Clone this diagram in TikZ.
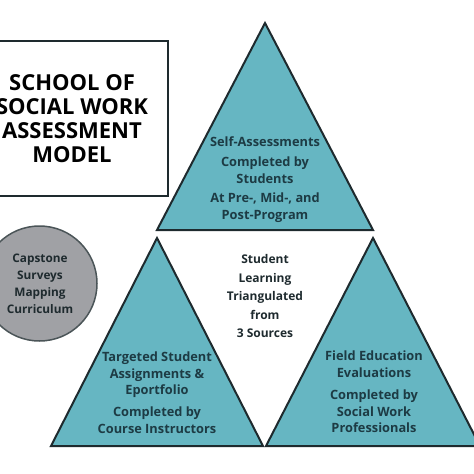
\documentclass[tikz,border=0pt]{standalone}
\usepackage{fontspec}
\setmainfont{Open Sans}
\definecolor{teal}{HTML}{66B6C2}
\definecolor{capgray}{HTML}{A0A1A5}
\definecolor{edge}{HTML}{1E2A2E}
\definecolor{tritext}{HTML}{1D3B44}
\tikzset{
  tri/.style={fill=teal, draw=edge, line width=2pt, line join=miter},
  tritxt/.style={align=center, text=tritext, font=\fontsize{12.8}{16.5}\selectfont\bfseries, inner sep=0pt},
  titletxt/.style={align=center, text=black, font=\fontsize{22}{24}\selectfont\bfseries, inner sep=0pt},
  captxt/.style={align=center, text=edge, font=\fontsize{11.8}{17}\selectfont\bfseries, inner sep=0pt},
  midtxt/.style={align=center, text=edge, font=\fontsize{12}{18.5}\selectfont\bfseries, inner sep=0pt},
}
\begin{document}
\begin{tikzpicture}[x=1pt,y=-1pt]
\useasboundingbox (0,0) rectangle (474,474);
\clip (0,0) rectangle (474,474);
% title box
\draw[line width=1.8pt, draw=edge] (-24,41) rectangle (168,196);
\node[titletxt] (title) at (72,119) {SCHOOL OF\\SOCIAL WORK\\ASSESSMENT\\MODEL};
% triangles
\draw[tri] (265,23) -- (373,230) -- (157,230) -- cycle;
\draw[tri] (157,238) -- (263,446) -- (51,446) -- cycle;
\draw[tri] (373,238) -- (480,446) -- (266,446) -- cycle;
% circle
\draw[fill=capgray, draw=edge!80, line width=1.5pt] (39.5,283.5) circle (57.5);
\node[captxt] (cap) at (40,284) {Capstone\\Surveys\\Mapping\\Curriculum};
% texts
\node[tritxt, anchor=north] (selfa) at (265,137) {Self-Assessments};
\node[tritxt, anchor=north] (selfb) at (265,157) {Completed by\\Students};
\node[tritxt, anchor=north] (selfc) at (265,193) {At Pre-, Mid-, and\\Post-Program};
\node[midtxt] (mid) at (265,296) {Student\\Learning\\Triangulated\\from\\3 Sources};
\node[tritxt, anchor=north] (tsa) at (157,352) {Targeted Student\\Assignments \&\\Eportfolio};
\node[tritxt, anchor=north] (tsb) at (157,407) {Completed by\\Course Instructors};
\node[tritxt, anchor=north] (fea) at (374,351) {Field Education\\Evaluations};
\node[tritxt, anchor=north] (feb) at (374,390) {Completed by\\Social Work\\Professionals};
\end{tikzpicture}
\end{document}
